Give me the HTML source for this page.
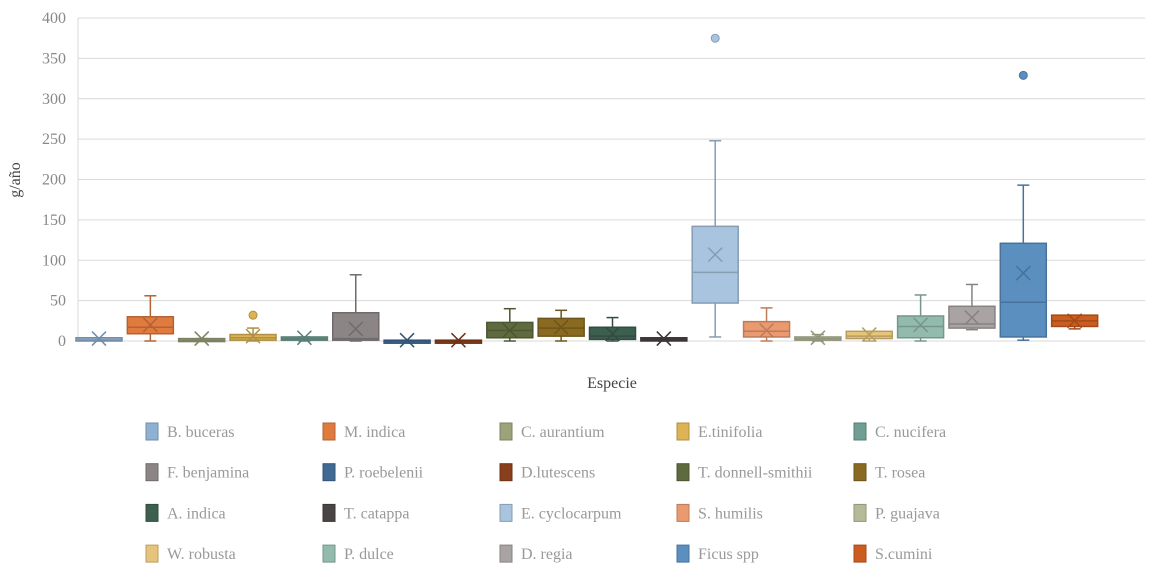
<!DOCTYPE html>
<html><head><meta charset="utf-8"><style>
body{margin:0;background:#fff;}
svg text{font-family:"Liberation Serif",serif;}
</style></head><body>
<svg id="chart" width="1155" height="568" xmlns="http://www.w3.org/2000/svg">
<g id="grid"></g><g id="boxes"></g><g id="legend"></g>
<text x="20" y="180" font-size="16" fill="#444" text-anchor="middle" transform="rotate(-90 20 180)">g/año</text>
<text x="612" y="388" font-size="16" fill="#444" text-anchor="middle">Especie</text>
</svg>
<script>
const species=["B. buceras","M. indica","C. aurantium","E.tinifolia","C. nucifera","F. benjamina","P. roebelenii","D.lutescens","T. donnell-smithii","T. rosea","A. indica","T. catappa","E. cyclocarpum","S. humilis","P. guajava","W. robusta","P. dulce","D. regia","Ficus spp","S.cumini"];
const mins=[0,0,0,0,0,0,0,0,0,0,0,0,5,0,0,0,0,14,1,15];
const q1s=[0,9,0,1,1,1,0,0,4,6,2,0,47,5,1,3,4,16,5,18];
const medians=[1,17,1,4,3,3,0,0,13,16,6,2,85,12,3,6,18,21,48,25];
const q3s=[4,30,3,8,5,35,1,1,23,28,17,4,142,24,5,12,31,43,121,32];
const maxs=[4,56,3,16,5,82,1,1,40,38,29,4,248,41,8,12,57,70,193,32];
const means=[3,20,3,6,4,15,1,1,13,17,9,3,107,13,4,8,20,29,84,25];
const outliers=[[],[],[],[32],[],[],[],[],[],[],[],[],[375],[],[],[],[],[],[329],[]];
const yTicks=[0,50,100,150,200,250,300,350,400];
const colors=["#8fb0d2","#e07b40","#9ca37a","#dcb355","#6f9e92","#8c8585","#3f6a93","#8b3e1b","#5f6b3f","#8a6a20","#3d5f50","#4a4444","#a8c4de","#eb9a70","#b5bb98","#e6c47a","#93bbad","#aaa3a3","#5b8fc0","#cc5d20"];
const NS="http://www.w3.org/2000/svg";
const y=v=>341-v*(323/400);
const x=i=>99+i*51.35;
function dark(c,f){const n=parseInt(c.slice(1),16);const r=Math.round((n>>16)*f),g=Math.round(((n>>8)&255)*f),b=Math.round((n&255)*f);return `rgb(${r},${g},${b})`;}
function mk(tag,attrs,parent){const e=document.createElementNS(NS,tag);for(const k in attrs)e.setAttribute(k,attrs[k]);parent.appendChild(e);return e;}
const grid=document.getElementById('grid');
yTicks.forEach(t=>{
 const l=mk('line',{x1:78,x2:1145,y1:y(t),y2:y(t),stroke:'#d9d9d9','stroke-width':1},grid);
 
 
 const tx=mk('text',{x:66,y:y(t)+5,'text-anchor':'end','font-size':16,fill:'#888'},grid);
 tx.textContent=t;
 
 
});
mk('line',{x1:78,x2:78,y1:18,y2:341,stroke:'#d9d9d9'},grid);
const bg=document.getElementById('boxes');
species.forEach((s,i)=>{
 const c=colors[i],d=dark(c,0.8),cx=x(i),w=46;
 const g=mk('g',{},bg);
 
 
 const cap=12;
 mk('line',{x1:cx,x2:cx,y1:y(maxs[i]),y2:y(q3s[i]),stroke:d,'stroke-width':1.5},g);
 mk('line',{x1:cx,x2:cx,y1:y(mins[i]),y2:y(q1s[i]),stroke:d,'stroke-width':1.5},g);
 mk('line',{x1:cx-cap/2,x2:cx+cap/2,y1:y(maxs[i]),y2:y(maxs[i]),stroke:d,'stroke-width':1.5},g);
 mk('line',{x1:cx-cap/2,x2:cx+cap/2,y1:y(mins[i]),y2:y(mins[i]),stroke:d,'stroke-width':1.5},g);
 const top=y(q3s[i]),bot=y(q1s[i]);
 mk('rect',{x:cx-w/2,y:top,width:w,height:Math.max(bot-top,3),fill:c,stroke:d,'stroke-width':1.5},g);
 mk('line',{x1:cx-w/2,x2:cx+w/2,y1:y(medians[i]),y2:y(medians[i]),stroke:d,'stroke-width':1.5},g);
 const my=y(means[i]),m=7;
 mk('path',{d:`M${cx-m} ${my-m}L${cx+m} ${my+m}M${cx-m} ${my+m}L${cx+m} ${my-m}`,stroke:d,'stroke-width':1.5,fill:'none'},g);
 outliers[i].forEach(o=>{
  const p=mk('circle',{cx:cx,cy:y(o),r:4,fill:c,stroke:d},g);
  
  
 });
});
const lg=document.getElementById('legend');
species.forEach((s,i)=>{
 const col=i%5,row=Math.floor(i/5);
 const lx=146+col*177,ly=431+row*40.7;
 const g=mk('g',{},lg);
 
 
 mk('rect',{x:lx,y:ly-8,width:12,height:17,fill:colors[i],stroke:dark(colors[i],0.8)},g);
 const t=mk('text',{x:lx+21,y:ly+6,'font-size':16,fill:'#999'},g);
 t.textContent=s;
});
</script>
</body></html>
